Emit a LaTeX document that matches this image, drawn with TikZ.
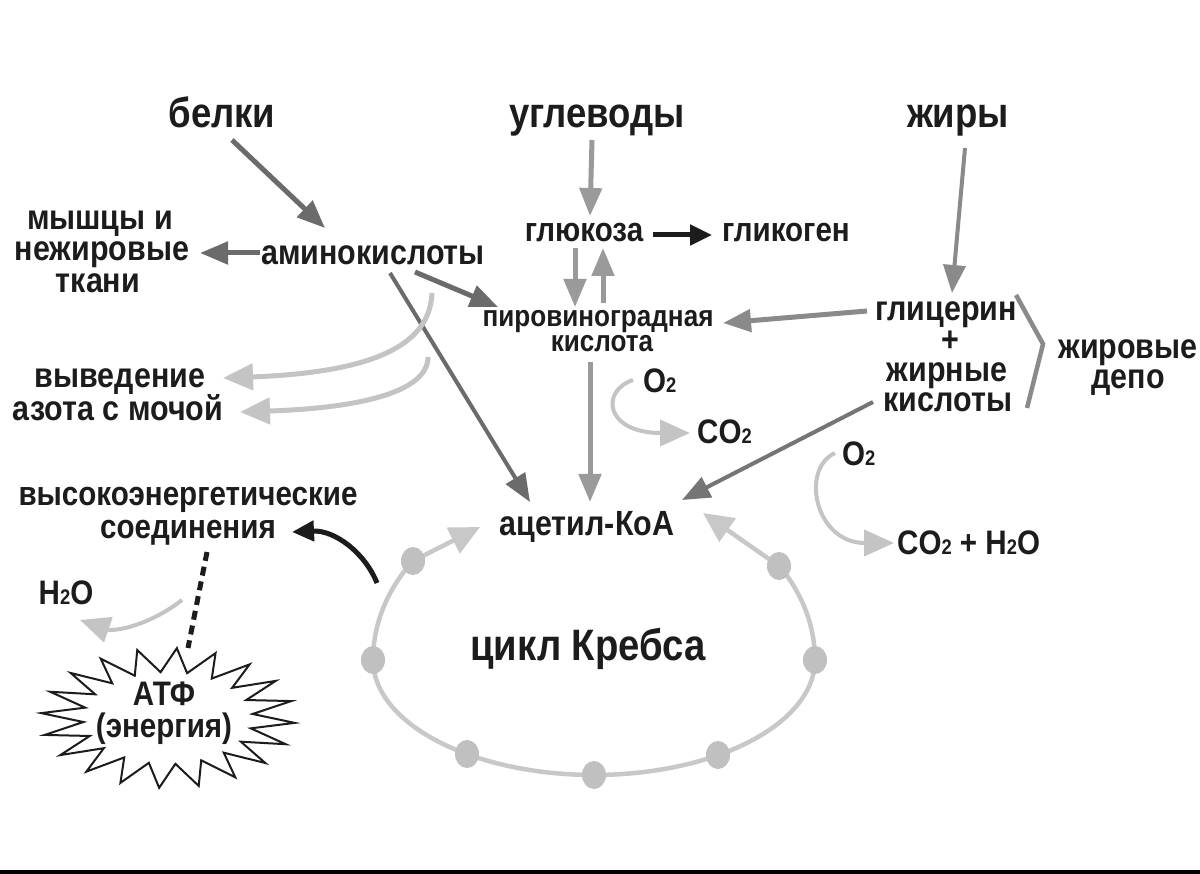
\documentclass[tikz,border=0pt]{standalone}
\usepackage{fontspec}
\setmainfont{Liberation Sans}[FakeStretch=0.87]
\usetikzlibrary{arrows.meta,calc}
\definecolor{txt}{HTML}{1C1C1C}
\definecolor{cdark}{HTML}{6B6B6B}
\definecolor{cmid}{HTML}{9A9A9A}
\definecolor{cfat}{HTML}{8A8A8A}
\definecolor{clight}{HTML}{C4C4C4}
\definecolor{ccyc}{HTML}{C8C8C8}
\definecolor{cdot}{HTML}{C0C0C0}
\newcommand\sbt{\scalebox{0.62}{2}}
\begin{document}
\begin{tikzpicture}[x=1pt,y=-1pt,
  lab/.style={inner sep=0pt, anchor=base, text=txt},
  fH/.style={font=\bfseries\fontsize{42}{46}\selectfont},
  fM/.style={font=\bfseries\fontsize{35}{40}\selectfont},
  fG/.style={font=\bfseries\fontsize{34}{38}\selectfont},
  fP/.style={font=\bfseries\fontsize{30}{34}\selectfont},
  fC/.style={font=\bfseries\fontsize{34}{38}\selectfont},
  fK/.style={font=\bfseries\fontsize{44}{48}\selectfont},
  fE/.style={font=\bfseries\fontsize{34}{38}\selectfont},
  darr/.style={draw=cdark, line width=5pt, -{Triangle[length=28pt,width=22pt]}},
  marr/.style={draw=cmid, line width=5pt, -{Triangle[length=28pt,width=22pt]}},
  farr/.style={draw=cfat, line width=5pt, -{Triangle[length=28pt,width=22pt]}},
  larr/.style={draw=clight, line width=5pt, -{Triangle[length=30pt,width=26pt]}},
  blkarr/.style={draw=txt, line width=5pt, -{Triangle[length=22pt,width=20pt]}},
  cyc/.style={draw=ccyc, line width=4.5pt},
  cycarr/.style={draw=ccyc, line width=4.5pt, -{Triangle[length=30pt,width=28pt]}},
  starline/.style={draw=txt, line width=2pt, fill=white, line join=miter}
]
\fill[white] (0,0) rectangle (1200,874);
\useasboundingbox (0,0) rectangle (1200,874);
\fill[black] (0,870) rectangle (1200,874);

% ---------- labels ----------
\node[lab,fH] (belki) at (222,128) {белки};
\node[lab,fH] (ugl) at (597,128) {углеводы};
\node[lab,fH] (zhiry) at (958,128) {жиры};
\node[lab,fM] (musc1) at (100,230) {мышцы и};
\node[lab,fM] (musc2) at (102,261) {нежировые};
\node[lab,fM] (musc3) at (98,293) {ткани};
\node[lab,fM] (amino) at (373,265) {аминокислоты};
\node[lab,fM] (vyv1) at (120,388) {выведение};
\node[lab,fM] (vyv2) at (118,421) {азота с мочой};
\node[lab,fG] (gluc) at (584,242) {глюкоза};
\node[lab,fG] (glyc) at (786,242) {гликоген};
\node[lab,fP] (pyr1) at (598,327) {пировиноградная};
\node[lab,fP] (pyr2) at (602,352) {кислота};
\node[lab,fM] (gl1) at (946,321) {глицерин};
\node[lab,fM] (gl2) at (950,352) {+};
\node[lab,fM] (gl3) at (947,382) {жирные};
\node[lab,fM] (gl4) at (948,412) {кислоты};
\node[lab,fM] (depo1) at (1128,359) {жировые};
\node[lab,fM] (depo2) at (1128,389) {депо};
\node[lab,fC,anchor=base west] (o2a) at (643,393) {O\sbt};
\node[lab,fC,anchor=base west] (co2a) at (697,444) {CO\sbt};
\node[lab,fC,anchor=base west] (o2b) at (842,466) {O\sbt};
\node[lab,fC,anchor=base west] (co2b) at (897,554) {CO\sbt\ + H\sbt O};
\node[lab,fM] (acetyl) at (587,535) {ацетил-КоА};
\node[lab,fK] (krebs) at (588,660) {цикл Кребса};
\node[lab,fE] (he1) at (188,505) {высокоэнергетические};
\node[lab,fE] (he2) at (188,538) {соединения};
\node[lab,fC] (h2o) at (66,604) {H\sbt O};

% ---------- starburst ATP ----------
\coordinate (star) at (168,718);
\draw[starline] plot[samples=40, domain=0:39, variable=\k]
  ({168+(106+21*cos(\k*180))*cos(\k*360/40+4)}, {718+(58+12*cos(\k*180))*sin(\k*360/40+4)}) -- cycle;
\node[lab,fE] (atp1) at (164,705) {АТФ};
\node[lab,fE] (atp2) at (164,737) {(энергия)};

% ---------- main arrows ----------
\draw[darr] ($(belki.base)+(10,12)$) -- ($(amino.base)+(-48,-37)$);
\draw[darr] ($(amino.base)+(-113,-12)$) -- ($(musc2.base)+(98,-8)$);
\draw[darr] ($(amino.base)+(42,7)$) -- ($(pyr1.base)+(-100,-20)$);
\draw[darr, line width=4pt] ($(amino.base)+(17,8)$) -- ($(acetyl.base)+(-57,-33)$);
\draw[marr] ($(ugl.base)+(-5,12)$) -- ($(gluc.base)+(6,-26)$);
\draw[marr] ($(gluc.base)+(-9,6)$) -- ($(pyr1.base)+(-23,-20)$);
\draw[marr] ($(pyr1.base)+(5,-24)$) -- ($(gluc.base)+(19,6)$);
\draw[blkarr] ($(gluc.base)+(69,-7)$) -- ($(glyc.base)+(-74,-7)$);
\draw[farr, line width=4pt] ($(zhiry.base)+(7,20)$) -- ($(gl1.base)+(6,-28)$);
\draw[farr] ($(gl1.base)+(-79,-10)$) -- ($(pyr1.base)+(125,-4)$);
\draw[darr, draw=cfat!85!black, line width=4pt] ($(gl4.base)+(-75,-10)$) -- ($(acetyl.base)+(95,-35)$);
\draw[marr] ($(pyr2.base)+(-12,10)$) -- ($(acetyl.base)+(3,-33)$);

% ---------- light curved arrows ----------
\draw[larr] ($(amino.base)+(59,28)$) .. controls (430,340) and (385,372) .. ($(vyv1.base)+(103,-10)$);
\draw[larr] ($(amino.base)+(55,92)$) .. controls (428,392) and (360,408) .. ($(vyv2.base)+(122,-9)$);
\draw[larr, line width=4pt] ($(o2a.base west)+(-10,-13)$) .. controls (600,391) and (605,433) .. ($(co2a.base west)+(-7,-11)$);
\draw[larr, line width=4pt] ($(o2b.base west)+(-7,-13)$) .. controls (800,469) and (815,543) .. ($(co2b.base west)+(-3,-11)$);
\coordinate (h2ostart) at (182,600);
\draw[larr, line width=4pt] (h2ostart) .. controls (150,625) and (115,632) .. ($(h2o.base)+(14,16)$);

% ---------- high energy ----------
\coordinate (bstart) at (377,583);
\draw[blkarr] (bstart) .. controls (365,553) and (335,530) .. ($(he2.base)+(104,-6)$);
\coordinate (startop) at (188,648);
\draw[draw=txt, line width=5pt, dash pattern=on 9pt off 6pt] ($(he2.base)+(19,14)$) -- (startop);

% ---------- bracket ----------
\coordinate (br1) at (1016,295);
\coordinate (br2) at (1043,344);
\coordinate (br3) at (1027,408);
\draw[draw=cfat, line width=4.5pt] (br1) -- (br2) -- (br3);

% ---------- Krebs cycle ----------
\draw[cyc] plot[domain=0:180, samples=60] ({594+221*cos(\x)},{660+115*sin(\x)});
\draw[cyc] plot[domain=0:33, samples=20] ({594+221*cos(\x)},{660-173*sin(\x)});
\draw[cyc] plot[domain=145:180, samples=20] ({594+221*cos(\x)},{660-173*sin(\x)});
\coordinate (d1) at (413,561);
\coordinate (d2) at (373,660);
\coordinate (d3) at (467,754);
\coordinate (d4) at (594,775);
\coordinate (d5) at (718,755);
\coordinate (d6) at (815,660);
\coordinate (d7) at (779,566);
\draw[cycarr] (d1) -- ($(acetyl.base)+(-107,-8)$);
\draw[cycarr] (d7) -- ($(acetyl.base)+(116,-22)$);
\foreach \d in {d1,d2,d3,d4,d5,d6,d7}
  \fill[cdot] (\d) ellipse[x radius=12, y radius=14];
\end{tikzpicture}
\end{document}
